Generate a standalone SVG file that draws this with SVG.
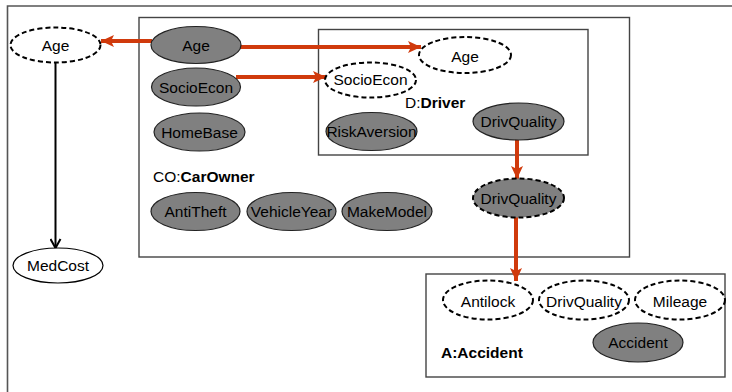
<svg xmlns="http://www.w3.org/2000/svg" width="732" height="392" viewBox="0 0 732 392">
  <defs>
    <style>
      text { font-family: "Liberation Sans", Arial, sans-serif; font-size: 15.5px; fill: #000; }
      .lbl { text-anchor: middle; dominant-baseline: central; }
      .frame { fill: none; stroke: #555; stroke-width: 1.6; }
      .box { fill: #fff; stroke: #444; stroke-width: 1.4; }
      .obs { fill: #808080; stroke: #222; stroke-width: 1.2; }
      .obsdash { fill: #808080; stroke: #000; stroke-width: 2; stroke-dasharray: 5 3; }
      .hidden { fill: #fff; stroke: #000; stroke-width: 2; stroke-dasharray: 5 3; }
      .plain { fill: #fff; stroke: #000; stroke-width: 1.2; }
      .red { fill: none; stroke: #d03a0c; stroke-width: 4; }
      .blk { fill: none; stroke: #000; stroke-width: 2; }
    </style>
    <marker id="redHead" markerWidth="14" markerHeight="14" refX="13" refY="7" orient="auto" markerUnits="userSpaceOnUse">
      <path d="M0,1 L13,7 L0,13 L3,7 Z" fill="#d03a0c"/>
    </marker>
    <marker id="blkHead" markerWidth="12" markerHeight="12" refX="10" refY="6" orient="auto" markerUnits="userSpaceOnUse">
      <path d="M1,1 L10,6 L1,11" fill="none" stroke="#000" stroke-width="2"/>
    </marker>
  </defs>

  <rect width="732" height="392" fill="#fff"/>

  <!-- enclosing frame (top and left edges) -->
  <path class="frame" d="M7.5,392 L7.5,6 L732,6"/>

  <!-- plates -->
  <rect id="plate-carowner" class="box" x="139" y="17.5" width="490.5" height="239.5"/>
  <rect id="plate-driver" class="box" x="318.5" y="29.5" width="269.5" height="125.5"/>
  <rect id="plate-accident" class="box" x="426" y="274" width="299" height="103"/>

  <text x="153" y="182">CO:<tspan font-weight="bold">CarOwner</tspan></text>
  <text x="405" y="108">D:<tspan font-weight="bold">Driver</tspan></text>
  <text x="441" y="358" font-weight="bold">A:Accident</text>

  <!-- connectors -->
  <g id="connectors">
    <line class="red" x1="152" y1="41" x2="101" y2="41" marker-end="url(#redHead)"/>
    <line class="red" x1="240" y1="47" x2="421" y2="47" marker-end="url(#redHead)"/>
    <line class="red" x1="236" y1="77" x2="326" y2="77" marker-end="url(#redHead)"/>
    <line class="red" x1="517" y1="139" x2="517" y2="179" marker-end="url(#redHead)"/>
    <line class="red" x1="516" y1="217" x2="516" y2="281" marker-end="url(#redHead)"/>
    <line class="blk" x1="55.5" y1="63" x2="55.5" y2="248" marker-end="url(#blkHead)"/>
  </g>

  <!-- free nodes -->
  <g id="age-outer">
    <ellipse class="hidden" cx="55.5" cy="45" rx="45" ry="17.5"/>
    <text class="lbl" x="55.5" y="45">Age</text>
  </g>
  <g id="medcost">
    <ellipse class="plain" cx="58" cy="265.5" rx="45" ry="17.5"/>
    <text class="lbl" x="58" y="265.5">MedCost</text>
  </g>

  <!-- CarOwner attributes -->
  <g id="co-age">
    <ellipse class="obs" cx="196" cy="45" rx="45" ry="18.5"/>
    <text class="lbl" x="196" y="45">Age</text>
  </g>
  <g id="co-socioecon">
    <ellipse class="obs" cx="196" cy="87" rx="44.5" ry="19"/>
    <text class="lbl" x="196" y="87">SocioEcon</text>
  </g>
  <g id="co-homebase">
    <ellipse class="obs" cx="199.5" cy="132" rx="45.5" ry="19"/>
    <text class="lbl" x="199.5" y="132">HomeBase</text>
  </g>
  <g id="co-antitheft">
    <ellipse class="obs" cx="195.5" cy="211.5" rx="44.5" ry="19"/>
    <text class="lbl" x="195.5" y="211.5">AntiTheft</text>
  </g>
  <g id="co-vehicleyear">
    <ellipse class="obs" cx="291.5" cy="211.5" rx="44.5" ry="19"/>
    <text class="lbl" x="291.5" y="211.5">VehicleYear</text>
  </g>
  <g id="co-makemodel">
    <ellipse class="obs" cx="387" cy="211.5" rx="45" ry="19"/>
    <text class="lbl" x="387" y="211.5">MakeModel</text>
  </g>
  <g id="co-drivquality">
    <ellipse class="obsdash" cx="518.5" cy="198" rx="45.5" ry="19.5"/>
    <text class="lbl" x="518.5" y="198">DrivQuality</text>
  </g>

  <!-- Driver attributes -->
  <g id="d-age">
    <ellipse class="hidden" cx="465" cy="55" rx="46" ry="18"/>
    <text class="lbl" x="465" y="56">Age</text>
  </g>
  <g id="d-socioecon">
    <ellipse class="hidden" cx="370.5" cy="80" rx="45.5" ry="17.5"/>
    <text class="lbl" x="370.5" y="79">SocioEcon</text>
  </g>
  <g id="d-riskaversion">
    <ellipse class="obs" cx="371.5" cy="131.5" rx="45.5" ry="19"/>
    <text class="lbl" x="371.5" y="131">RiskAversion</text>
  </g>
  <g id="d-drivquality">
    <ellipse class="obs" cx="518.5" cy="121.5" rx="45.5" ry="18.5"/>
    <text class="lbl" x="518.5" y="121">DrivQuality</text>
  </g>

  <!-- Accident attributes -->
  <g id="a-antilock">
    <ellipse class="hidden" cx="488" cy="300" rx="45" ry="19.5"/>
    <text class="lbl" x="488" y="301">Antilock</text>
  </g>
  <g id="a-drivquality">
    <ellipse class="hidden" cx="584" cy="300" rx="45" ry="19.5"/>
    <text class="lbl" x="584" y="301">DrivQuality</text>
  </g>
  <g id="a-mileage">
    <ellipse class="hidden" cx="680" cy="300" rx="45" ry="19.5"/>
    <text class="lbl" x="680" y="301">Mileage</text>
  </g>
  <g id="a-accident">
    <ellipse class="obs" cx="638" cy="342.5" rx="45" ry="19.5"/>
    <text class="lbl" x="638" y="342">Accident</text>
  </g>
</svg>
